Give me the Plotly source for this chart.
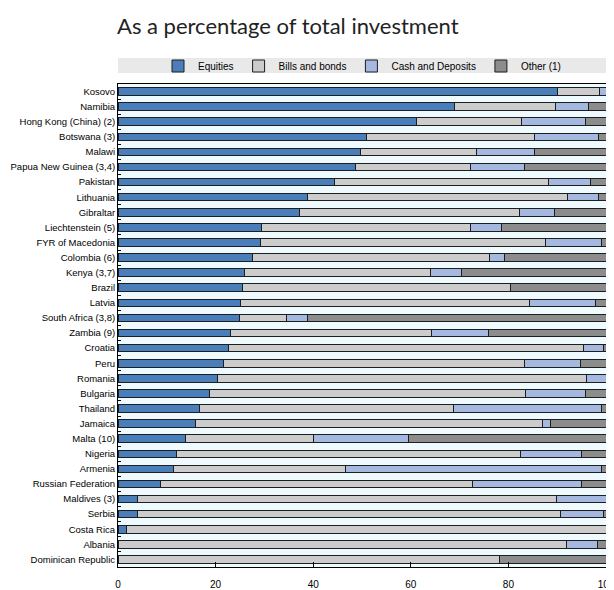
import plotly.graph_objects as go

countries = [
    "Kosovo", "Namibia", "Hong Kong (China) (2)", "Botswana (3)", "Malawi",
    "Papua New Guinea (3,4)", "Pakistan", "Lithuania", "Gibraltar", "Liechtenstein (5)",
    "FYR of Macedonia", "Colombia (6)", "Kenya (3,7)", "Brazil", "Latvia",
    "South Africa (3,8)", "Zambia (9)", "Croatia", "Peru", "Romania",
    "Bulgaria", "Thailand", "Jamaica", "Malta (10)", "Nigeria",
    "Armenia", "Russian Federation", "Maldives (3)", "Serbia", "Costa Rica",
    "Albania", "Dominican Republic",
]

equities = [90.1, 68.9, 61.1, 51.0, 49.7, 48.7, 44.3, 38.9, 37.2, 29.5,
            29.2, 27.6, 26.0, 25.5, 25.0, 24.9, 23.1, 22.7, 21.6, 20.4,
            18.7, 16.7, 15.8, 13.9, 12.0, 11.4, 8.7, 3.9, 3.9, 1.8,
            0.0, 0.0]
bills = [8.6, 20.8, 21.6, 34.4, 23.8, 23.5, 44.0, 53.3, 45.0, 42.8,
         58.5, 48.5, 38.1, 55.0, 59.3, 9.6, 41.2, 72.6, 61.8, 75.6,
         64.9, 52.0, 71.2, 26.2, 70.4, 35.2, 64.0, 86.0, 86.8, 98.2,
         92.0, 78.1]
cash = [1.3, 6.8, 13.1, 13.1, 11.8, 11.2, 8.6, 6.3, 7.3, 6.3,
        11.3, 3.0, 6.2, 0.0, 13.6, 4.3, 11.6, 4.2, 11.3, 4.0,
        12.1, 30.3, 1.6, 19.4, 12.6, 52.4, 22.3, 10.1, 8.7, 0.0,
        6.3, 0.0]
other = [0.0, 3.5, 4.2, 1.5, 14.7, 16.6, 3.1, 1.5, 10.5, 21.4,
         1.0, 20.9, 29.7, 19.5, 2.1, 61.2, 24.1, 0.5, 5.3, 0.0,
         4.3, 1.0, 11.4, 40.5, 5.0, 1.0, 5.0, 0.0, 0.6, 0.0,
         1.7, 21.9]

series = [
    ("Equities", equities, "#4A7EBB"),
    ("Bills and bonds", bills, "#CCCCCC"),
    ("Cash and Deposits", cash, "#A5B8E0"),
    ("Other (1)", other, "#8C8C8C"),
]

x_ticks = [0, 20, 40, 60, 80, 100]

# The page body adds an 8px margin, so the figure is sized to fit inside it.
W, H = 606, 582
ML, MR, MT, MB = 110, 8, 76, 23
PH = H - MT - MB

fig = go.Figure()
for name, vals, col in series:
    fig.add_trace(go.Bar(
        y=countries, x=vals, name=name, orientation="h",
        marker=dict(color=col, line=dict(color="#1E1E1E", width=1)),
        width=0.5,
    ))

fig.update_layout(
    barmode="stack",
    width=W, height=H,
    margin=dict(l=ML, r=MR, t=MT, b=MB, autoexpand=False),
    paper_bgcolor="white",
    plot_bgcolor="#EEFAFD",
    font=dict(family="Liberation Sans, Arial, sans-serif", size=10, color="#000000"),
    title=dict(text="As a percentage of total investment",
               font=dict(family="Lato, Carlito, Calibri, sans-serif", size=22, color="#222222"),
               x=109 / W, xref="container", xanchor="left",
               y=1 - 18 / H, yref="container", yanchor="middle", pad=dict(l=0, r=0, t=0, b=0)),
    showlegend=True,
    legend=dict(orientation="h", x=0.5, xanchor="center", xref="paper",
                y=1 - 58 / H, yanchor="middle", yref="container",
                bgcolor="rgba(0,0,0,0)", traceorder="normal",
                font=dict(size=10), itemwidth=30),
    shapes=[dict(type="rect", xref="paper", yref="paper",
                 x0=0, x1=1, y0=1 + 11 / PH, y1=1 + 26 / PH,
                 fillcolor="#E9E9E9", line=dict(width=0), layer="below")],
    bargap=0.5,
)

fig.update_xaxes(
    range=[0, 100], tickvals=x_ticks, ticks="inside", ticklen=5,
    tickcolor="#000000", showgrid=False, zeroline=False,
    showline=True, linecolor="#000000", linewidth=1, mirror=True,
    ticklabelstandoff=8, ticklabeloverflow="allow", automargin=False,
)
fig.update_yaxes(
    autorange="reversed", categoryorder="array", categoryarray=countries,
    ticks="inside", tickson="boundaries", ticklen=3, tickcolor="#000000",
    showgrid=False, showline=True, linecolor="#000000", linewidth=1, mirror=True,
    automargin=False, tickfont=dict(size=9.5),
)

fig.write_html("out.html")
